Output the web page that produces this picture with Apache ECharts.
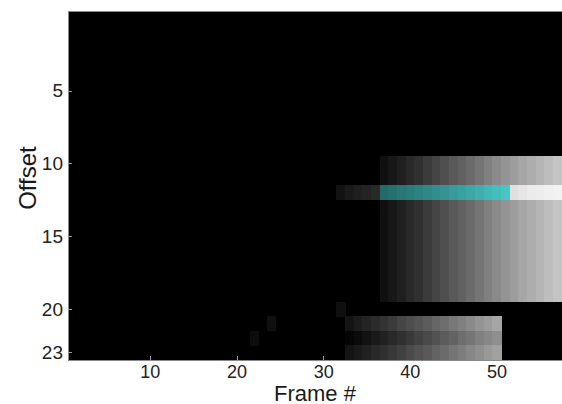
<!DOCTYPE html>
<html>
<head>
<meta charset="utf-8">
<script src="https://cdn.jsdelivr.net/npm/echarts@6/dist/echarts.min.js"></script>
<style>
  html, body { margin: 0; padding: 0; background: #ffffff; }
  #chart { width: 562px; height: 404px; }
  #chart svg path, #chart svg rect { shape-rendering: crispEdges; }
</style>
</head>
<body>
<div id="chart"></div>
<script>
// ---- categories ----
const frames = ['1','2','3','4','5','6','7','8','9','10','11','12','13','14','15','16','17','18','19','20',
  '21','22','23','24','25','26','27','28','29','30','31','32','33','34','35','36','37','38','39','40',
  '41','42','43','44','45','46','47','48','49','50','51','52','53','54','55','56','57'];
const offsets = ['0','1','2','3','4','5','6','7','8','9','10','11','12','13','14','15','16','17','18','19','20','21','22','23'];

// ---- tick labels ----
const xTickLabels = [10, 20, 30, 40, 50];
const yTickLabels = [5, 10, 15, 20, 23];

// ---- values (intensity 0..1) ----
// wide band: offsets 10-19 (except 12), frames 37..57
const bandRows = [10, 11, 13, 14, 15, 16, 17, 18, 19];
const bandStartFrame = 37;
const bandProfile = [0.06, 0.09, 0.12, 0.16, 0.19, 0.23, 0.27, 0.31, 0.35, 0.38, 0.42,
  0.46, 0.50, 0.54, 0.58, 0.61, 0.65, 0.68, 0.71, 0.74, 0.77];

// offset 12: dark lead-in frames 32..36, cyan 37..51, bright 52..57
const row12LeadStart = 32;
const row12Lead = [0.07, 0.10, 0.12, 0.14, 0.16];
const cyanStart = 37;
const cyanValues = [0.00, 0.06, 0.12, 0.18, 0.24, 0.30, 0.36, 0.43, 0.50, 0.57, 0.64, 0.71, 0.79, 0.87, 0.95];
const row12TailStart = 52;
const row12Tail = [0.88, 0.90, 0.92, 0.93, 0.94, 0.95];

// lower block: offsets 21..23, frames 33..50
const lowerStart = 33;
const row21 = [0.08, 0.11, 0.14, 0.17, 0.20, 0.23, 0.27, 0.30, 0.33, 0.36, 0.40, 0.43, 0.47, 0.50, 0.54, 0.58, 0.61, 0.65];
const row22 = [0.02, 0.04, 0.07, 0.10, 0.13, 0.16, 0.19, 0.22, 0.26, 0.29, 0.32, 0.36, 0.39, 0.43, 0.46, 0.50, 0.53, 0.56];
const row23 = [0.08, 0.10, 0.13, 0.16, 0.19, 0.22, 0.25, 0.29, 0.32, 0.35, 0.39, 0.42, 0.46, 0.49, 0.53, 0.56, 0.60, 0.63];

// isolated faint cells [frame, offset, value]
const faintCells = [[32, 20, 0.06], [24, 21, 0.06], [22, 22, 0.05]];

// ---- build series data ----
function pushRow(arr, offset, startFrame, values) {
  values.forEach(function (v, i) { arr.push([String(startFrame + i), String(offset), v]); });
}
const grayData = [];
bandRows.forEach(function (r) { pushRow(grayData, r, bandStartFrame, bandProfile); });
pushRow(grayData, 12, row12LeadStart, row12Lead);
pushRow(grayData, 12, row12TailStart, row12Tail);
pushRow(grayData, 21, lowerStart, row21);
pushRow(grayData, 22, lowerStart, row22);
pushRow(grayData, 23, lowerStart, row23);
faintCells.forEach(function (c) { grayData.push([String(c[0]), String(c[1]), c[2]]); });

const cyanData = [];
pushRow(cyanData, 12, cyanStart, cyanValues);

const chart = echarts.init(document.getElementById('chart'), null, { renderer: 'svg' });
const font = 'Liberation Sans, Arial, Helvetica, sans-serif';
chart.setOption({
  animation: false,
  backgroundColor: '#ffffff',
  grid: {
    left: 68, right: 0, top: 11, bottom: 44,
    outerBoundsMode: 'none',
    containLabel: false,
    show: true, backgroundColor: '#000000', borderColor: '#8a8a8a', borderWidth: 1
  },
  xAxis: {
    type: 'category',
    data: frames,
    name: 'Frame #',
    nameLocation: 'middle',
    nameGap: 22,
    nameMoveOverlap: false,
    nameTextStyle: { fontFamily: font, fontSize: 22, color: '#1a1a1a' },
    axisLine: { show: true, lineStyle: { color: '#8a8a8a', width: 1 } },
    axisTick: {
      show: true, inside: true, length: 4, alignWithLabel: true,
      interval: function (i, v) { return xTickLabels.indexOf(Number(v)) >= 0; },
      lineStyle: { color: '#9a9a9a' }
    },
    axisLabel: {
      interval: function (i, v) { return xTickLabels.indexOf(Number(v)) >= 0; },
      fontFamily: font, fontSize: 18, color: '#222222', margin: 3
    },
    splitLine: { show: false }
  },
  yAxis: {
    type: 'category',
    data: offsets,
    inverse: true,
    name: 'Offset',
    nameLocation: 'middle',
    nameGap: 29,
    nameMoveOverlap: false,
    nameTextStyle: { fontFamily: font, fontSize: 24, color: '#1a1a1a', padding: [0, 0, 0, 15] },
    axisLine: { show: true, lineStyle: { color: '#8a8a8a', width: 1 } },
    axisTick: {
      show: true, inside: true, length: 4, alignWithLabel: true,
      interval: function (i, v) { return yTickLabels.indexOf(Number(v)) >= 0; },
      lineStyle: { color: '#9a9a9a' }
    },
    axisLabel: {
      interval: function (i, v) { return yTickLabels.indexOf(Number(v)) >= 0; },
      fontFamily: font, fontSize: 19, color: '#222222', margin: 5
    },
    splitLine: { show: false }
  },
  visualMap: [
    { type: 'continuous', show: false, seriesIndex: 0, min: 0, max: 1, dimension: 2,
      inRange: { color: ['#000000', '#ffffff'] } },
    { type: 'continuous', show: false, seriesIndex: 1, min: 0, max: 1, dimension: 2,
      inRange: { color: ['#236a6a', '#4ccaca'] } }
  ],
  series: [
    { type: 'heatmap', data: grayData, itemStyle: { borderWidth: 0 }, emphasis: { disabled: true } },
    { type: 'heatmap', data: cyanData, itemStyle: { borderWidth: 0 }, emphasis: { disabled: true } }
  ]
});
</script>
</body>
</html>
